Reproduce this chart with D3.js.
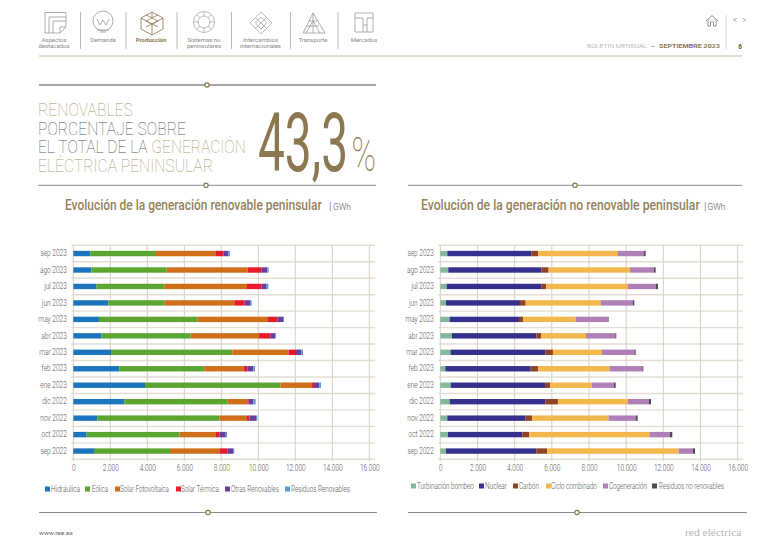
<!DOCTYPE html>
<html>
<head>
<meta charset="utf-8">
<script src="https://cdnjs.cloudflare.com/ajax/libs/d3/7.8.5/d3.min.js"></script>
<style>
html, body { margin: 0; padding: 0; background: #fff; }
svg { display: block; }
text { font-family: Roboto, sans-serif; }
</style>
</head>
<body>
<svg id="page" width="780" height="550"></svg>
<script>
// months, top row first
var months = ["sep 2023","ago 2023","jul 2023","jun 2023","may 2023","abr 2023","mar 2023","feb 2023","ene 2023","dic 2022","nov 2022","oct 2022","sep 2022"];
var xTicks = [0,2000,4000,6000,8000,10000,12000,14000,16000];

// renewable (GWh)
var hidraulica = [920,973,1261,1892,1387,1531,2036,2487,3874,2757,1297,721,1117];
var eolica     = [3495,4073,3659,3028,5316,4812,6561,4595,7318,5570,6597,5027,4109];
var fotovolt   = [3299,4380,4470,3821,3822,3696,3045,2128,1712,1081,1496,1966,2668];
var termica    = [396,739,775,523,505,612,397,198,108,72,126,180,433];
var otrasRen   = [270,324,252,288,306,270,288,324,288,252,360,342,306];
var residRen   = [90,72,126,90,54,36,90,90,90,126,72,73,72];

// non renewable (GWh)
var turbinacion = [377,430,341,305,502,628,556,269,556,502,377,412,305];
var nuclear     = [4518,5003,5092,3980,3729,4536,5092,4590,5074,5146,4195,3999,4859];
var carbon      = [376,394,269,305,234,269,412,412,287,681,359,376,591];
var ciclo       = [4288,4377,4395,4054,2815,2405,2638,3840,2225,3768,4126,6475,7067];
var cogen       = [1398,1291,1506,1722,1721,1578,1739,1757,1202,1129,1470,1094,771];
var residNoRen  = [90,90,107,71,54,53,72,54,89,108,90,125,108];

var renNames = ["Hidráulica","Eólica","Solar Fotovoltaica","Solar Térmica","Otras Renovables","Residuos Renovables"];
var renColors = ["#1c75bc","#5aa630","#cf6f1a","#e8192c","#6a3d9a","#5b9bd5"];
var noRenNames = ["Turbinación bombeo","Nuclear","Carbón","Ciclo combinado","Cogeneración","Residuos no renovables"];
var noRenColors = ["#85b79d","#35308c","#8d4324","#f2b84b","#b07fb8","#4d4d4f"];

var gold = "#8b7750", tan = "#a8966f", grey = "#8a8a8a", dark = "#4a4a4a";
var svg = d3.select("#page");

// squeeze a text to a given width, the original font is a condensed one
function fit(sel, w) {
	var node = sel.node();
	var x = +sel.attr("x"), y = +sel.attr("y");
	var sx = w / node.getComputedTextLength();
	sel.attr("x", 0).attr("y", 0).attr("transform", "translate(" + x + "," + y + ") scale(" + sx + ",1)");
	return sel;
}
function label(x, y, str, size, color, weight, w, anchor) {
	var t = svg.append("text").attr("x", x).attr("y", y).text(str)
		.attr("font-size", size).attr("fill", color).attr("font-weight", weight || 300)
		.attr("text-anchor", anchor || "start");
	if (w) fit(t, w);
	return t;
}
function rule(x1, x2, y, cx, color) {
	svg.append("line").attr("x1", x1).attr("x2", x2).attr("y1", y).attr("y2", y)
		.attr("stroke", color).attr("stroke-width", 1);
	svg.append("circle").attr("cx", cx).attr("cy", y).attr("r", 2.2)
		.attr("fill", "#fff").attr("stroke", gold).attr("stroke-width", 1.2);
}

// ---------- chart ----------
function drawChart(names, colors, series, x0, x1, top, bottom, right, legendY, legendPos) {
	var rows = months.map(function(m, i) {
		var r = {month: m};
		names.forEach(function(n, k) { r[n] = series[k][i]; });
		return r;
	});
	var x = d3.scaleLinear().domain([0, 16000]).range([x0, x1]);
	var y = d3.scaleBand().domain(months).range([top, bottom]).paddingInner(0).paddingOuter(0);
	var stack = d3.stack().keys(names)(rows);
	var g = svg.append("g");

	// horizontal separators
	g.selectAll("line.h").data(d3.range(months.length + 1)).enter().append("line")
		.attr("x1", x0 - 2).attr("x2", right)
		.attr("y1", function(i) { return top + i * y.step(); })
		.attr("y2", function(i) { return top + i * y.step(); })
		.attr("stroke", "#e3ddd4").attr("stroke-width", 1.4);

	// vertical grid
	g.selectAll("line.v").data(xTicks).enter().append("line")
		.attr("x1", x).attr("x2", x).attr("y1", top).attr("y2", bottom + 2)
		.attr("stroke", "#d8cfc3").attr("stroke-width", 1);

	var barH = 5.4;
	g.selectAll("g.s").data(stack).enter().append("g")
		.attr("fill", function(d, i) { return colors[i]; })
		.selectAll("rect").data(function(d) { return d; }).enter().append("rect")
		.attr("x", function(d) { return x(d[0]); })
		.attr("width", function(d) { return x(d[1]) - x(d[0]); })
		.attr("y", function(d) { return y(d.data.month) + (y.bandwidth() - barH) / 2; })
		.attr("height", barH);

	var ax = g.append("g").attr("transform", "translate(0," + (bottom + 2) + ")")
		.call(d3.axisBottom(x).tickValues(xTicks).tickSize(0).tickPadding(4)
			.tickFormat(function(d) { return d3.format(",")(d).replace(/,/g, "."); }));
	ax.select(".domain").remove();
	var ay = g.append("g").attr("transform", "translate(" + (x0 - 6.5) + ",0)")
		.call(d3.axisLeft(y).tickSize(0).tickPadding(0));
	ay.select(".domain").remove();
	g.selectAll(".tick text").attr("font-size", 8.5).attr("font-weight", 300).attr("fill", "#555")
		.attr("font-family", "Roboto, sans-serif")
		.attr("transform", "scale(0.77,1)");

	// legend
	names.forEach(function(n, i) {
		var p = legendPos[i];
		g.append("rect").attr("x", p[0]).attr("y", legendY - 2.5).attr("width", 5).attr("height", 5).attr("fill", colors[i]);
		fit(g.append("text").attr("x", p[1]).attr("y", legendY + 3).text(n)
			.attr("font-size", 8.5).attr("font-weight", 300).attr("fill", "#555"), p[2] - p[1]);
	});
}

drawChart(renNames, renColors, [hidraulica, eolica, fotovolt, termica, otrasRen, residRen],
	73.3, 369.3, 245.3, 459.3, 375, 489,
	[[45,51,80],[85,92,108],[115,120,169],[176,181,219],[225,231,279],[285,291,350]]);
drawChart(noRenNames, noRenColors, [turbinacion, nuclear, carbon, ciclo, cogen, residNoRen],
	440.3, 737.7, 245.3, 459.3, 743, 486,
	[[411,417,474],[479,485,507],[513,519,539],[546,551,597],[603,609,647],[652,659,724]]);

// ---------- headline block ----------
rule(39, 376, 85, 207, dark);
rule(38, 376, 185.3, 206, grey);
rule(408, 742, 185.3, 575, grey);
rule(39, 377, 512.5, 208, grey);
rule(408, 747, 512.5, 577, grey);

label(38, 116, "RENOVABLES", 19, tan, 100, 95);
label(38, 134.5, "PORCENTAJE SOBRE", 19, "#555", 100, 148);
var l3 = label(38, 153, "", 19, "#555", 100);
l3.append("tspan").text("EL TOTAL DE LA ");
l3.append("tspan").attr("fill", tan).text("GENERACIÓN");
fit(l3, 208);
label(38, 172, "ELÉCTRICA PENINSULAR", 19, tan, 100, 175);
label(258, 171, "43,3", 82, gold, 400, 90);
label(351.5, 171, "%", 48, gold, 100, 24.5);

label(65, 210, "Evolución de la generación renovable peninsular", 15.5, "#94825e", 500, 257);
label(329, 210, "|", 11, "#555", 300);
label(333, 210, "GWh", 9, "#555", 300, 18);
label(421, 210, "Evolución de la generación no renovable peninsular", 15.5, "#94825e", 500, 279);
label(704, 210, "|", 11, "#555", 300);
label(707.5, 210, "GWh", 9, "#555", 300, 18);

// ---------- header ----------
svg.append("line").attr("x1", 39).attr("x2", 742).attr("y1", 56).attr("y2", 56).attr("stroke", "#c9b79c").attr("stroke-width", 1);
[80.5, 126, 177, 231.5, 290.5, 338].forEach(function(x) {
	svg.append("line").attr("x1", x).attr("x2", x).attr("y1", 12).attr("y2", 49).attr("stroke", "#aaa").attr("stroke-width", 0.8);
});
svg.append("line").attr("x1", 726).attr("x2", 726).attr("y1", 15).attr("y2", 49).attr("stroke", "#ccc").attr("stroke-width", 0.8);

var navLabels = [
	[54, ["Aspectos","destacados"], "#888", 400],
	[103, ["Demanda"], "#888", 400],
	[151, ["Producción"], gold, 700],
	[204, ["Sistemas no","peninsulares"], "#888", 400],
	[260.5, ["Intercambios","internacionales"], "#888", 400],
	[313, ["Transporte"], "#888", 400],
	[364, ["Mercados"], "#888", 400]
];
navLabels.forEach(function(d) {
	d[1].forEach(function(s, i) {
		label(d[0], 42.3 + i * 5.7, s, 6, d[2], d[3], null, "middle");
	});
});

// nav icons, outline only
function icon(d, color) {
	svg.append("path").attr("d", d).attr("fill", "none").attr("stroke", color || "#999").attr("stroke-width", 0.8);
}
icon("M45 12.5H66V27L60 33H45Z M49 17H66 M49 17V33 M53 21H66 M53 21V33 M60 33V27H66");
svg.append("circle").attr("cx", 103).attr("cy", 21).attr("r", 10).attr("fill", "none").attr("stroke", "#999").attr("stroke-width", 0.8);
icon("M97 19L100 25L103 20L106 25L109 19 M97 30H109 M100 32H106");
icon("M152 12L163 18V29L152 35L141 29V18Z M141 18L152 24L163 18 M152 24V35 M152 12V18 M146 21L158 27 M158 21L146 27 M146 15L158 21 M158 15L146 21", gold);
svg.append("circle").attr("cx", 204).attr("cy", 22).attr("r", 10.5).attr("fill", "none").attr("stroke", "#aaa").attr("stroke-width", 0.8);
svg.append("circle").attr("cx", 204).attr("cy", 22).attr("r", 6).attr("fill", "none").attr("stroke", "#aaa").attr("stroke-width", 0.8);
icon("M204 11.5V16 M204 28V32.5 M193.5 22H198 M210 22H214.5 M197 15L200 18 M208 26L211 29 M211 15L208 18 M200 26L197 29", "#aaa");
icon("M261 12L272 23L261 34L250 23Z M261 17L266.5 23L261 29L255.5 23Z M255.5 17.5L266.5 28.5 M266.5 17.5L255.5 28.5", "#aaa");
icon("M313 13L325 33H303Z M313 13V33 M307 26L319 26 M309 21H317 M306 33L313 21L320 33", "#999");
icon("M355 13H373V32H355Z M355 18H363V32 M373 18H367V32 M363 25H367");

// top right
icon("M706 21L712 15.5L718 21 M708 20V26H710.5V22H713.5V26H716V20", "#777");
label(735, 23, "<", 9, "#888", 300, null, "middle");
label(744, 23, ">", 9, "#888", 300, null, "middle");
label(587, 48, "BOLETÍN MENSUAL", 6, "#999", 300, 60);
label(651, 48, "–", 6, gold, 700);
label(659, 48, "SEPTIEMBRE 2023", 6, gold, 700, 61);
label(740, 48.5, "6", 6.5, "#555", 700, null, "middle");

// footer
label(39, 535, "www.ree.es", 6, "#666", 400, 34);
label(685, 536, "red eléctrica", 10, "#b5b5b5", 400, 63).style("font-family", "'Liberation Serif', serif");
</script>
</body>
</html>
